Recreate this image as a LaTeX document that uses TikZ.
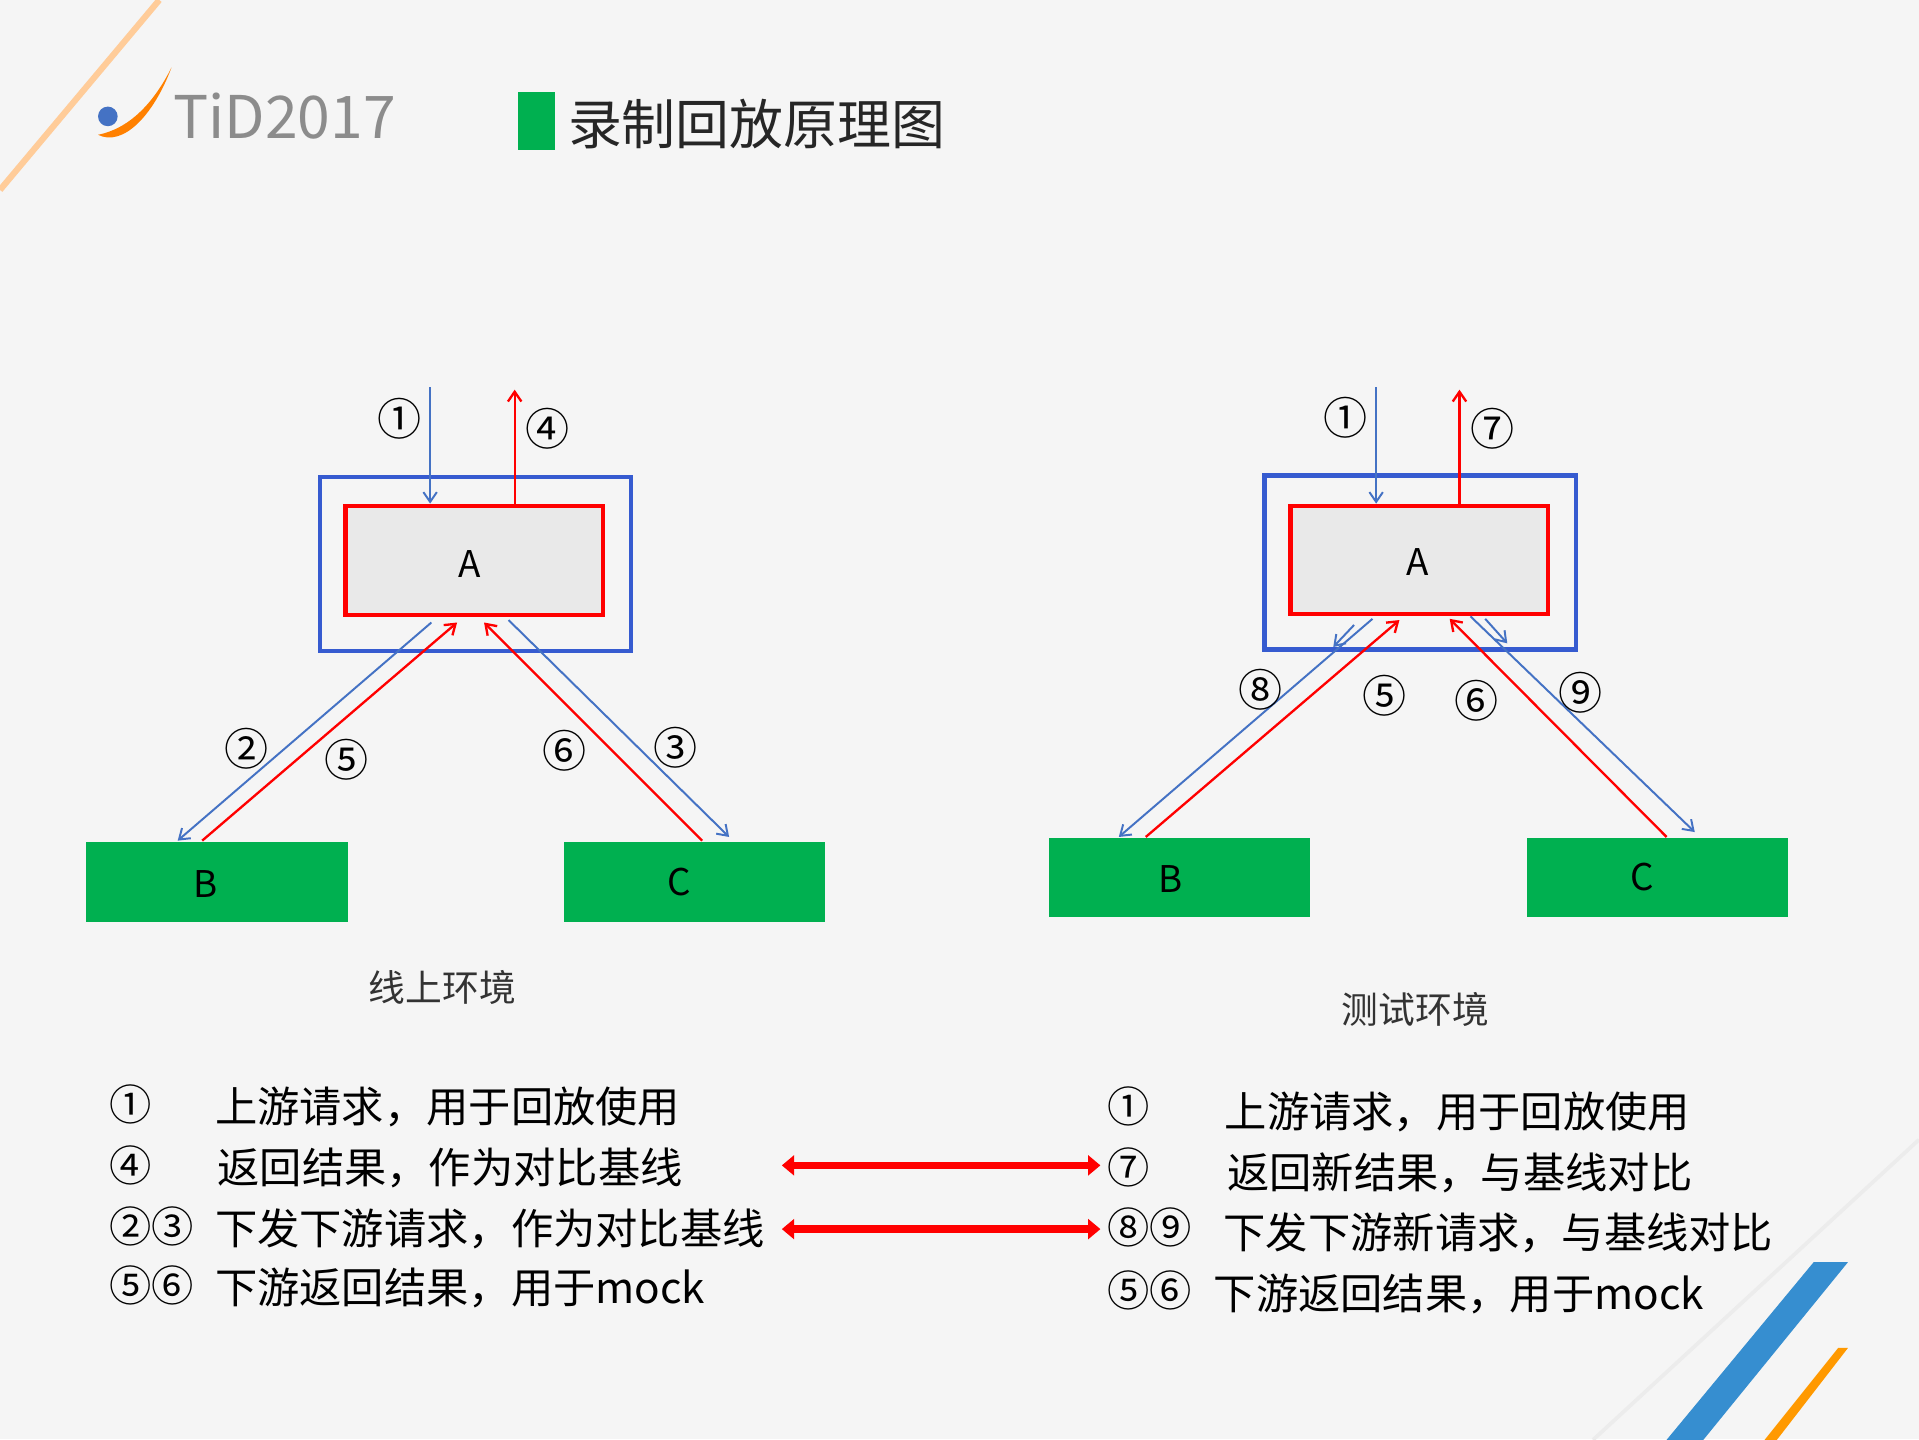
\documentclass[tikz,border=0pt]{standalone}
\usepackage{fontspec}
\setmainfont{Noto Sans CJK SC}
\newfontfamily\circfont{DejaVu Serif}
\usetikzlibrary{arrows.meta}
\definecolor{bl}{HTML}{4472C4}
\definecolor{gr}{HTML}{00B050}
\definecolor{bg}{HTML}{F5F5F5}
\tikzset{
 outer/.style={draw=bl!80!blue,line width=3.5pt,fill=bg},
 inner/.style={draw=red,line width=3.5pt,fill=bg!90!gray},
 gbox/.style={fill=gr,draw=none},
 barr/.style={draw=bl,line width=1.6pt,-{Straight Barb[length=8pt,width=11pt]}},
 rarr/.style={draw=red,line width=1.9pt,-{Straight Barb[length=8pt,width=11pt]}},
 lbl/.style={font=\fontsize{30}{34}\selectfont},
 circ/.style={font=\fontsize{36}{40}\selectfont},
 leg/.style={font=\fontsize{34.5}{40}\selectfont,anchor=west},
 big/.style={draw=red,line width=6pt,{Triangle[length=10pt,width=16pt]}-{Triangle[length=10pt,width=16pt]}},
}
\begin{document}
\begin{tikzpicture}[x=1pt,y=-1pt]
\fill[bg] (0,0) rectangle (1566,1174.5);
\useasboundingbox (0,0) rectangle (1566,1174.5);
% decorations
\draw[orange!40,line width=5pt] (0,155) -- (130,0);
\draw[gray!15,line width=3pt] (1300,1175) -- (1566,930);
\fill[bl!80!cyan] (1360,1175) -- (1480,1030) -- (1508,1030) -- (1390,1175) -- cycle;
\fill[orange!80!yellow] (1440,1175) -- (1500,1100) -- (1508,1100) -- (1450,1175) -- cycle;
% logo
\fill[orange] (80,110) .. controls (100,120) and (125,95) .. (140,55) .. controls (125,85) and (105,105) .. (80,110);
\fill[bl] (88,95) circle (8);
\node[font=\fontsize{48}{52}\selectfont,text=gray!90,anchor=west] (logo) at (138,95) {TiD2017};
\fill[gr] (423,75) rectangle (453,122);
\node[font=\fontsize{44}{50}\selectfont,text=black!85,anchor=west] (title) at (460,101) {录制回放原理图};
% left diagram
\draw[outer] (261,389) rectangle (515,531);
\draw[inner] (282,413) rectangle (492,502);
\node[lbl] (a1) at (383,460) {A};
\fill[gbox] (70,687) rectangle (284,752); \node[lbl] (b1) at (168,721) {B};
\fill[gbox] (460,687) rectangle (673,752); \node[lbl] (c1) at (554,720) {C};
\coordinate (p1) at (351,316); \coordinate (p1e) at (351,411);
\coordinate (p4) at (420,411); \coordinate (p4e) at (420,318);
\draw[barr] (p1) -- (p1e);
\draw[rarr] (p4) -- (p4e);
\draw[barr] (352,508) -- (145,686);
\draw[rarr] (165,686) -- (373,508);
\draw[barr] (415,506) -- (595,683);
\draw[rarr] (573,686) -- (395,508);
\node[circ] at (326,342) {①};
\node[circ] at (447,350) {④};
\node[circ] at (201,611) {②};
\node[circ] at (283,620) {⑤};
\node[circ] at (461,613) {⑥};
\node[circ] at (551,610) {③};
\node[lbl,text=black!80] at (361,806) {线上环境};
% right diagram
\draw[outer] (1032,388) rectangle (1286,530);
\draw[inner] (1053,413) rectangle (1263,501);
\node[lbl] (a2) at (1157,459) {A};
\fill[gbox] (856,684) rectangle (1069,748); \node[lbl] (b2) at (955,717) {B};
\fill[gbox] (1246,684) rectangle (1459,748); \node[lbl] (c2) at (1340,716) {C};
\draw[barr] (1123,316) -- (1123,411);
\draw[rarr] (1191,411) -- (1191,318);
\draw[barr] (1120,505) -- (913,683);
\draw[rarr] (935,683) -- (1142,506);
\draw[barr] (1200,503) -- (1383,679);
\draw[rarr] (1360,683) -- (1183,505);
\draw[barr] (1105,510) -- (1088,528);
\draw[barr] (1212,505) -- (1230,525);
\node[circ] at (1098,341) {①};
\node[circ] at (1218,350) {⑦};
\node[circ] at (1029,563) {⑧};
\node[circ] at (1130,568) {⑤};
\node[circ] at (1205,572) {⑥};
\node[circ] at (1290,565) {⑨};
\node[lbl,text=black!80] at (1155,824) {测试环境};
% legend left
\node[leg] at (86,901) {①};
\node[leg] at (86,951) {④};
\node[leg] at (86,1001) {②③};
\node[leg] at (86,1049) {⑤⑥};
\node[leg] at (172,903) {上游请求，用于回放使用};
\node[leg] at (174,953) {返回结果，作为对比基线};
\node[leg] at (172,1003) {下发下游请求，作为对比基线};
\node[leg] at (172,1051) {下游返回结果，用于mock};
% legend right
\node[leg] at (900,903) {①};
\node[leg] at (900,953) {⑦};
\node[leg] at (900,1002) {⑧⑨};
\node[leg] at (900,1053) {⑤⑥};
\node[leg] at (996,907) {上游请求，用于回放使用};
\node[leg] at (998,957) {返回新结果，与基线对比};
\node[leg] at (995,1006) {下发下游新请求，与基线对比};
\node[leg] at (987,1056) {下游返回结果，用于mock};
\coordinate (l1a) at (638,951); \coordinate (l1b) at (898,951);
\coordinate (l2a) at (638,1003); \coordinate (l2b) at (898,1003);
\draw[big] (l1a) -- (l1b);
\draw[big] (l2a) -- (l2b);
\end{tikzpicture}
\end{document}
